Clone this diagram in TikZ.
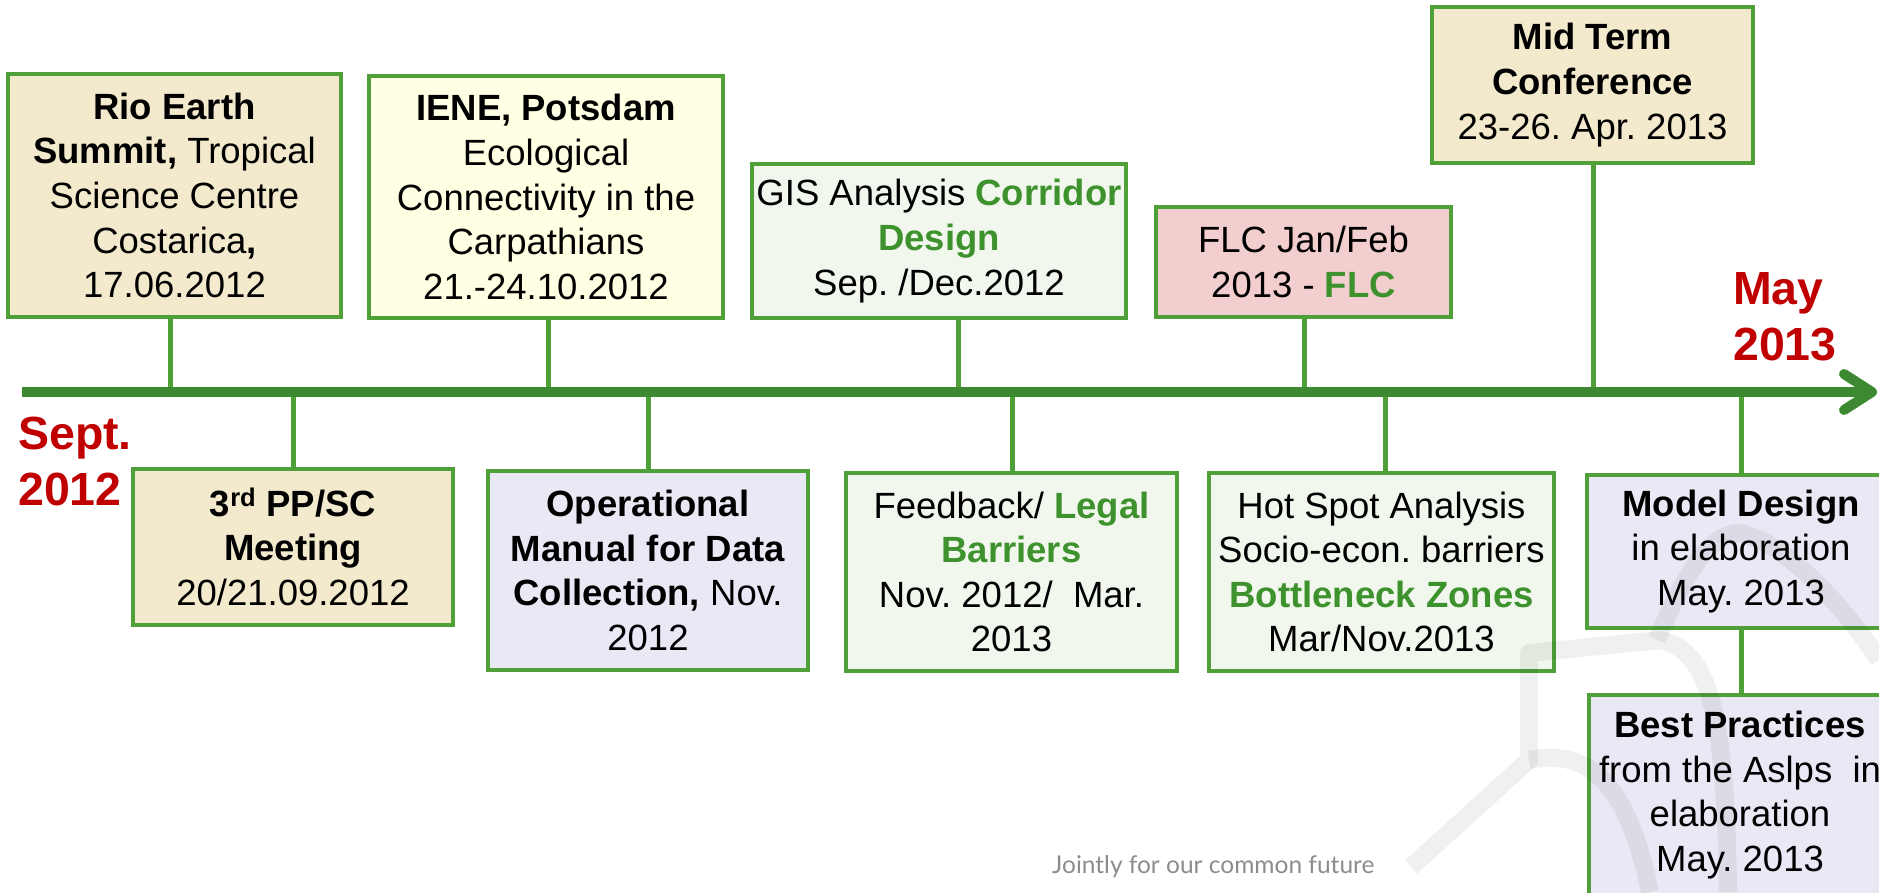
\documentclass[tikz,border=0pt]{standalone}
\usepackage{fontspec}
\setmainfont{Liberation Sans}
\newfontfamily\mottofont{Lato}
\usepackage{tikz}
\usetikzlibrary{arrows.meta}
\frenchspacing

\definecolor{boxgreen}{RGB}{80,160,58}
\definecolor{axisgreen}{RGB}{60,137,50}
\definecolor{textgreen}{RGB}{62,146,46}
\definecolor{datered}{RGB}{192,0,0}
\definecolor{beige}{RGB}{243,234,205}
\definecolor{paleyellow}{RGB}{255,255,228}
\definecolor{palegreen}{RGB}{241,247,236}
\definecolor{rose}{RGB}{242,206,206}
\definecolor{lavender}{RGB}{233,233,245}

\newcommand{\grn}[1]{\textcolor{textgreen}{\textbf{#1}}}

\begin{document}
\begin{tikzpicture}[x=1pt, y=-1pt,
		event/.style={draw=boxgreen, line width=4pt, inner sep=2pt, align=center,
			font=\fontsize{36.5}{44.6}\selectfont},
		tick/.style={boxgreen, line width=5pt},
		axis/.style={axisgreen, line width=10pt, -{Straight Barb[length=28pt, width=36pt, round]}},
		period/.style={text=datered, font=\bfseries\fontsize{46.5}{56}\selectfont,
			align=left, inner sep=0pt, anchor=north west}]
	\useasboundingbox (0,0) rectangle (1879,892);
	\clip (0,0) rectangle (1879,892);

	% events above the line
	\node[event, fill=beige, minimum width=333pt, minimum height=243pt] (rio) at (174.5,195.5)
		{\textbf{Rio Earth}\\\textbf{Summit,} Tropical\\Science Centre\\Costarica\textbf{,}\\17.06.2012};
	\node[event, fill=paleyellow, minimum width=354pt, minimum height=242pt] (iene) at (546,197)
		{\textbf{IENE, Potsdam}\\Ecological\\Connectivity in the\\Carpathians\\21.-24.10.2012};
	\node[event, fill=palegreen, minimum width=374pt, minimum height=154pt] (gis) at (939,241)
		{GIS Analysis \grn{Corridor}\\\grn{Design}\\Sep. /Dec.2012};
	\node[event, fill=rose, minimum width=295pt, minimum height=110pt] (flc) at (1303.5,262)
		{FLC Jan/Feb\\2013 - \grn{FLC}};
	\node[event, fill=beige, minimum width=321pt, minimum height=156pt] (mid) at (1592.5,85)
		{\textbf{Mid Term}\\\textbf{Conference}\\23-26. Apr. 2013};

	% events below the line
	\node[event, fill=beige, minimum width=320pt, minimum height=156pt] (pp) at (293,547)
		{\textbf{3\textsuperscript{rd} PP/SC}\\\textbf{Meeting}\\20/21.09.2012};
	\node[event, fill=lavender, minimum width=320pt, minimum height=199pt] (oper) at (648,570.5)
		{\textbf{Operational}\\\textbf{Manual for Data}\\\textbf{Collection,} Nov.\\2012};
	\node[event, fill=palegreen, minimum width=331pt, minimum height=198pt] (feed) at (1011.5,572)
		{Feedback/ \grn{Legal}\\\grn{Barriers}\\Nov. 2012/\ \ Mar.\\2013};
	\node[event, fill=palegreen, minimum width=345pt, minimum height=198pt] (hot) at (1381.5,572)
		{Hot Spot Analysis\\Socio-econ. barriers\\\grn{Bottleneck Zones}\\Mar/Nov.2013};
	\node[event, fill=lavender, minimum width=308pt, minimum height=153pt] (model) at (1741,551.5)
		{\textbf{Model Design}\\in elaboration\\May. 2013};
	\node[event, fill=lavender, minimum width=302pt, minimum height=200pt] (best) at (1740,795)
		{\textbf{Best Practices}\\from the Aslps\ \ in\\elaboration\\May. 2013};

	% ticks
	\foreach \ev/\xpos in {rio/170, iene/548, gis/958, flc/1304, mid/1593} {
		\coordinate (a-\ev) at (\xpos,392);
		\draw[tick] (\ev.south -| a-\ev) -- (a-\ev);
	}
	\foreach \ev/\xpos in {pp/293, oper/648, feed/1012, hot/1385, model/1741} {
		\coordinate (a-\ev) at (\xpos,392);
		\draw[tick] (a-\ev) -- (\ev.north -| a-\ev);
	}
	\draw[tick] (model.south) -- (model.south |- best.north);

	% time line
	\coordinate (start) at (22,392);
	\coordinate (end) at (1877,392);
	\draw[axis] (start) -- (end);
	\node[period] (sept) at (18,417) {Sept.\\2012};
	\node[period] (may) at (1733,272) {May\\2013};

	% watermark
	\draw[black, opacity=0.06, line width=18pt, line join=round]
		(1411,867) -- (1529,760) -- (1529,653) -- (1660,640)
		.. controls (1705,650) and (1726,700) .. (1728,892);
	\draw[black, opacity=0.06, line width=18pt]
		(1657,640) .. controls (1690,560) and (1715,533) .. (1740,533)
		.. controls (1780,540) and (1840,600) .. (1879,660);
	\draw[black, opacity=0.06, line width=18pt]
		(1529,760) .. controls (1580,750) and (1625,770) .. (1650,892);
	\node[anchor=base west, inner sep=0pt, text=black!45,
		font=\mottofont\fontsize{24.5}{29}\selectfont] (motto) at (1052,873) {Jointly for our common future};
\end{tikzpicture}
\end{document}
